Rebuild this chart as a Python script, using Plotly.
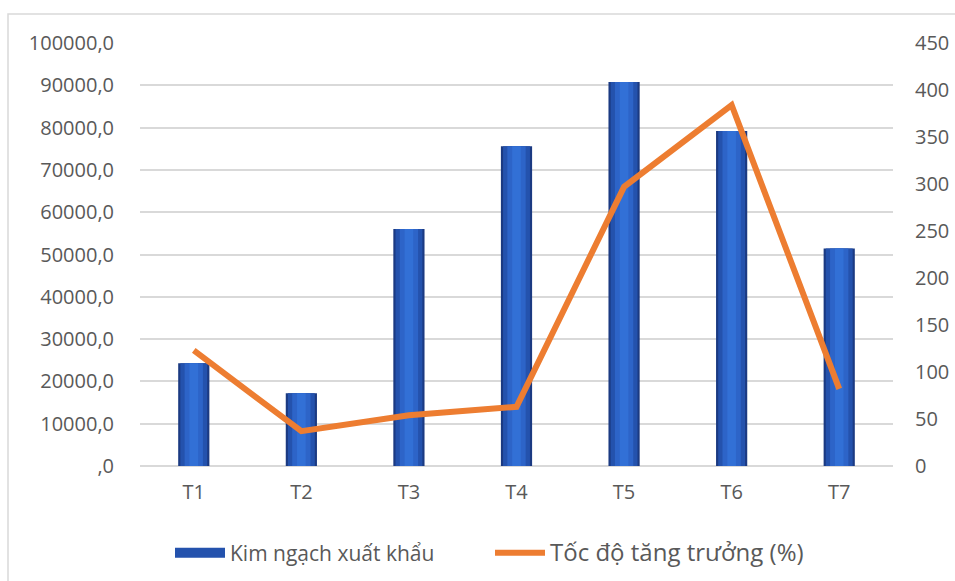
import plotly.graph_objects as go

# Monthly export turnover and growth rate
months = ["T1", "T2", "T3", "T4", "T5", "T6", "T7"]
export_value = [24300, 17200, 56000, 75600, 90800, 79200, 51400]
growth_pct = [123, 37, 54, 63, 297, 384, 82]

left_ticks = [0, 10000, 20000, 30000, 40000, 50000, 60000, 70000, 80000, 90000, 100000]
left_labels = [",0", "10000,0", "20000,0", "30000,0", "40000,0", "50000,0",
               "60000,0", "70000,0", "80000,0", "90000,0", "100000,0"]
right_ticks = [0, 50, 100, 150, 200, 250, 300, 350, 400, 450]

TXT = "#595959"
GRID = "#d9d9d9"
FONT = "Open Sans, Liberation Sans, sans-serif"
BAR_NAME = "Kim ngạch xuất khẩu"
LINE_NAME = "Tốc độ tăng trưởng (%)"

fig = go.Figure()

# Layered bars give a bevelled look: dark rim, mid body, lighter core
bar_layers = [
    (0.29, "#1b3a82"),
    (0.25, "#2452ad"),
    (0.17, "#2d64c8"),
    (0.08, "#3270d6"),
]
for w, col in bar_layers:
    fig.add_trace(go.Bar(
        x=months, y=export_value, width=w,
        marker=dict(color=col, line=dict(width=0)),
        name=BAR_NAME, showlegend=False,
        legendgroup="kn", yaxis="y",
    ))

# Wide swatch for the bar series in the legend
fig.add_trace(go.Scatter(
    x=[None], y=[None], mode="lines",
    line=dict(color="#2452ad", width=14),
    name=BAR_NAME, legendgroup="kn", showlegend=True, hoverinfo="skip",
))

fig.add_trace(go.Scatter(
    x=months, y=growth_pct, mode="lines",
    line=dict(color="#ED7D31", width=6),
    name=f'<span style="font-size:24px">{LINE_NAME}</span>',
    yaxis="y2",
))

# Light frame around the chart area
L, R, T, B = 140, 893, 43, 466
W, H = R - L, B - T
fig.add_shape(type="rect", xref="paper", yref="paper",
              x0=(8 - L) / W, x1=(990 - L) / W,
              y0=(B - 620) / H, y1=(B - 14) / H,
              line=dict(color=GRID, width=1.5), fillcolor="rgba(0,0,0,0)", layer="below")

fig.update_layout(
    width=955, height=581,
    margin=dict(l=L, r=955 - R, t=T, b=581 - B, autoexpand=False),
    paper_bgcolor="white", plot_bgcolor="white",
    barmode="overlay",
    font=dict(family=FONT, color=TXT, size=20),
    xaxis=dict(
        showgrid=False, showline=False, ticks="", automargin=False,
        tickfont=dict(size=20, color=TXT), ticklabelstandoff=12,
    ),
    yaxis=dict(
        range=[0, 100000], tickvals=left_ticks, ticktext=left_labels,
        showgrid=True, gridcolor=GRID, gridwidth=1.5,
        zeroline=True, zerolinecolor=GRID, zerolinewidth=1.5,
        showline=False, ticks="", tickfont=dict(size=20, color=TXT),
        ticklabelstandoff=25, automargin=False,
    ),
    yaxis2=dict(
        range=[0, 450], tickvals=right_ticks, overlaying="y", side="right",
        showgrid=False, zeroline=False, showline=False, ticks="",
        tickfont=dict(size=20, color=TXT), ticklabelstandoff=21, automargin=False,
    ),
    legend=dict(
        orientation="h", x=(490 - L) / W, xanchor="center", y=(B - 553) / H, yanchor="middle",
        font=dict(size=21, color=TXT), bgcolor="rgba(0,0,0,0)",
        itemwidth=50, tracegroupgap=0, traceorder="normal",
        entrywidth=255, entrywidthmode="pixels",
    ),
    showlegend=True,
)

fig.write_html("out.html")
